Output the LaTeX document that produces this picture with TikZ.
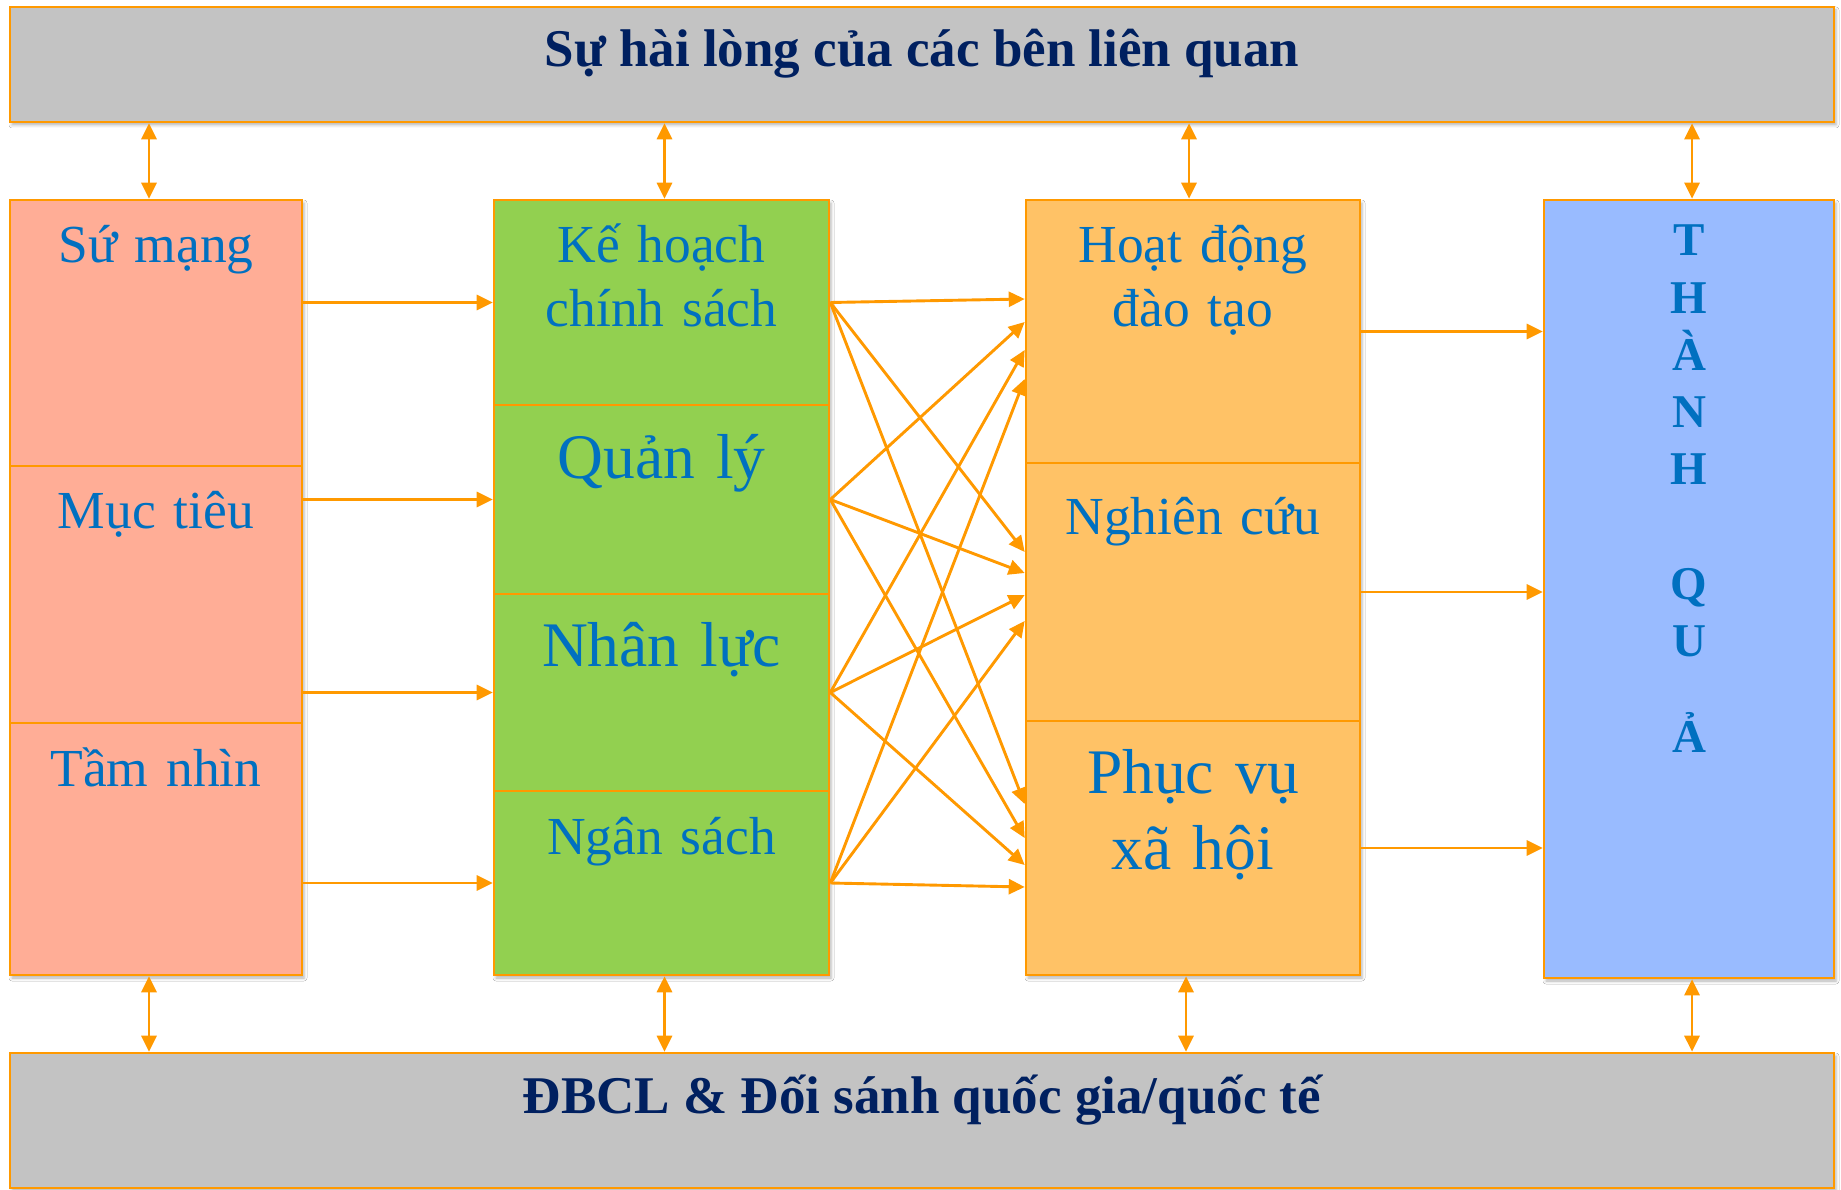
\documentclass[tikz,border=0pt]{standalone}
\usepackage{fontspec}
\setmainfont{Liberation Serif}
\usetikzlibrary{arrows.meta,calc,fit,shadows.blur}
\definecolor{edge}{HTML}{FF9900}
\definecolor{panel}{HTML}{C3C3C3}
\definecolor{salmon}{HTML}{FFAD96}
\definecolor{leaf}{HTML}{92D050}
\definecolor{apricot}{HTML}{FFC266}
\definecolor{sky}{HTML}{99BBFF}
\definecolor{ink}{HTML}{0070C0}
\definecolor{navy}{HTML}{002060}

\begin{document}
\begin{tikzpicture}[x=1pt,y=-1pt,
  block/.style={draw=edge,line width=2.6pt,inner sep=0pt},
  soft/.style={blur shadow={shadow xshift=2pt,shadow yshift=-3pt,shadow blur radius=3pt,shadow opacity=30}},
  lbl/.style={text=ink,inner sep=0pt,font=\fontsize{53.5}{64.3}\selectfont,text width=330pt,align=center,anchor=base},
  biglbl/.style={lbl,font=\fontsize{63.5}{76.5}\selectfont},
  headtext/.style={text=navy,inner sep=0pt,anchor=base,font=\bfseries\fontsize{53}{64}\selectfont},
  tip/.tip={Triangle[length=16pt,width=15pt]},
  arr/.style={draw=edge,line width=2.9pt,-tip},
  darr/.style={draw=edge,line width=2.9pt,tip-tip},
]
\useasboundingbox (0,0) rectangle (1841,1190);
\fill[white] (0,0) rectangle (1841,1190);

% top and bottom bands
\node[block,soft,fill=panel,fit={(10,7)(1834,122)}] (top) {};
\node[block,soft,fill=panel,fit={(10,1053)(1834,1188)}] (bottomband) {};
\node[headtext] (toptext) at (922,66.5) {Sự hài lòng của các bên liên quan};
\node[headtext] (bottomtext) at (922,1113) {ĐBCL \& Đối sánh quốc gia/quốc tế};

% column 1
\node[block,soft,fill=salmon,fit={(10,200)(302,975)}] (c1) {};
\node[block,fill=salmon,fit={(10,200)(302,466)}] (s1) {};
\node[block,fill=salmon,fit={(10,466)(302,723)}] (s2) {};
\node[block,fill=salmon,fit={(10,723)(302,975)}] (s3) {};
\node[lbl] (s1t) at (156,262) {Sứ mạng};
\node[lbl] (s2t) at (156,528) {Mục tiêu};
\node[lbl] (s3t) at (156,786) {Tầm nhìn};

% column 2
\node[block,soft,fill=leaf,fit={(494,200)(829,975)}] (c2) {};
\node[block,fill=leaf,fit={(494,200)(829,405)}] (k1) {};
\node[block,fill=leaf,fit={(494,405)(829,594)}] (k2) {};
\node[block,fill=leaf,fit={(494,594)(829,791)}] (k3) {};
\node[block,fill=leaf,fit={(494,791)(829,975)}] (k4) {};
\node[lbl] (k1t) at (661.5,262) {Kế hoạch\\chính sách};
\node[biglbl] (k2t) at (661.5,478) {Quản lý};
\node[biglbl] (k3t) at (661.5,666) {Nhân lực};
\node[lbl] (k4t) at (661.5,854) {Ngân sách};

% column 3
\node[block,soft,fill=apricot,fit={(1026,200)(1360,975)}] (c3) {};
\node[block,fill=apricot,fit={(1026,200)(1360,463)}] (h1) {};
\node[block,fill=apricot,fit={(1026,463)(1360,721)}] (h2) {};
\node[block,fill=apricot,fit={(1026,721)(1360,975)}] (h3) {};
\node[lbl] (h1t) at (1193,262) {Hoạt động\\đào tạo};
\node[lbl] (h2t) at (1193,534) {Nghiên cứu};
\node[biglbl] (h3t) at (1193,793) {Phục vụ\\xã hội};

% column 4
\node[block,soft,fill=sky,fit={(1544,200)(1834,978)}] (c4) {};
\node[lbl,font=\bfseries\fontsize{47}{57.2}\selectfont,text width=60pt] (c4t) at (1689,256)
  {T\\H\\À\\N\\H\\[57.2pt]Q\\U\\[39pt]Ả};

% links between the bands and the columns
\draw[darr] ($(c1.north)+(-7,0)$) -- ($(c1.north |- top.south)+(-7,0)$);
\draw[darr] ($(c2.north)+(3,0)$) -- ($(c2.north |- top.south)+(3,0)$);
\draw[darr] ($(c3.north)+(-4,0)$) -- ($(c3.north |- top.south)+(-4,0)$);
\draw[darr] ($(c4.north)+(3,0)$) -- ($(c4.north |- top.south)+(3,0)$);
\draw[darr] ($(c1.south)+(-7,0)$) -- ($(c1.south |- bottomband.north)+(-7,0)$);
\draw[darr] ($(c2.south)+(3,0)$) -- ($(c2.south |- bottomband.north)+(3,0)$);
\draw[darr] ($(c3.south)+(-7,0)$) -- ($(c3.south |- bottomband.north)+(-7,0)$);
\draw[darr] ($(c4.south)+(3,0)$) -- ($(c4.south |- bottomband.north)+(3,0)$);

% column 1 to column 2
\foreach \k in {k1,k2,k3,k4}
  \draw[arr] (\k.west -| c1.east) -- (\k.west);

% column 2 to column 3
\foreach \src/\dst/\dy in {k1/h1/-32.5, k1/h2/-40, k1/h3/-44,
                           k2/h1/-9.5,  k2/h2/-19, k2/h3/-10,
                           k3/h1/18.5,  k3/h2/3,   k3/h3/17,
                           k4/h1/47.5,  k4/h2/29,  k4/h3/39}
  \draw[arr] (\src.east) -- ($(\dst.west)+(0,\dy)$);

% column 3 to column 4
\foreach \h in {h1,h2,h3}
  \draw[arr] (\h.east) -- (\h.east -| c4.west);
\end{tikzpicture}
\end{document}
